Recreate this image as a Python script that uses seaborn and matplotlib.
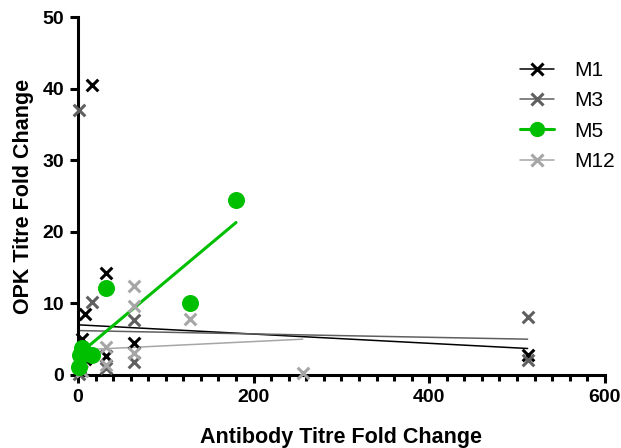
import matplotlib
matplotlib.use("Agg")
import matplotlib.pyplot as plt
from matplotlib.lines import Line2D
from matplotlib.ticker import MultipleLocator
import seaborn as sns

# values
m1_x = [16, 32, 8, 4, 64, 32, 8, 512, 2]
m1_y = [40.5, 14.2, 8.5, 5.0, 4.5, 2.6, 2.2, 2.8, 1.0]
m3_x = [1, 16, 64, 512, 512, 64, 1, 32]
m3_y = [37.0, 10.2, 7.7, 8.1, 2.1, 1.8, 0.1, 1.0]
m5_x = [1, 2, 4, 8, 16, 32, 128, 180]
m5_y = [1.1, 2.8, 3.8, 3.0, 2.8, 12.2, 10.0, 24.5]
m12_x = [64, 64, 128, 256, 32, 32, 64, 4, 2]
m12_y = [12.4, 9.7, 7.8, 0.3, 3.9, 1.4, 3.1, 0.5, 2.0]

# fitted lines as drawn in the reference (start / end)
m1_fit_x, m1_fit_y = [1, 512], [7.0, 3.7]
m3_fit_x, m3_fit_y = [1, 512], [6.2, 5.0]
m5_fit_x, m5_fit_y = [1, 180], [2.9, 21.3]
m12_fit_x, m12_fit_y = [2, 256], [3.5, 5.0]

labels = ["M1", "M3", "M5", "M12"]

sns.set_style("ticks", {"axes.edgecolor": "black", "text.color": "black",
                        "axes.labelcolor": "black", "xtick.color": "black",
                        "ytick.color": "black"})
plt.rcParams['font.family'] = ['Liberation Sans', 'DejaVu Sans']

fig = plt.figure(figsize=(6.21, 4.48), dpi=100)
ax = fig.add_axes([0.1256, 0.163, 0.8484, 0.799])

series = [
    (m1_x, m1_y, m1_fit_x, m1_fit_y, "black", "x", 1.1),
    (m3_x, m3_y, m3_fit_x, m3_fit_y, "#5f5f5f", "x", 1.1),
    (m12_x, m12_y, m12_fit_x, m12_fit_y, "#a6a6a6", "x", 1.1),
    (m5_x, m5_y, m5_fit_x, m5_fit_y, "#00bf00", "o", 2.2),
]

for xs, ys, fx, fy, col, mk, lw in series:
    sns.lineplot(x=fx, y=fy, color=col, linewidth=lw, ax=ax, legend=False)
    if mk == "o":
        sns.scatterplot(x=xs, y=ys, color=col, marker="o", s=150, linewidth=0,
                        ax=ax, legend=False, clip_on=False, zorder=3)
    else:
        sns.scatterplot(x=xs, y=ys, color=col, marker="x", s=70, linewidth=2.2,
                        ax=ax, legend=False, clip_on=False, zorder=3)

ax.set_xlim(0, 600)
ax.set_ylim(0, 50)
ax.xaxis.set_major_locator(MultipleLocator(200))
ax.xaxis.set_minor_locator(MultipleLocator(20))
ax.yaxis.set_major_locator(MultipleLocator(10))

sns.despine(ax=ax)
for s in ["left", "bottom"]:
    ax.spines[s].set_linewidth(2.2)
    ax.spines[s].set_color("black")
ax.tick_params(which="major", length=6, width=2.2, labelsize=14, pad=4, colors="black")
ax.tick_params(which="minor", length=4, width=2.2, colors="black")
for t in ax.get_xticklabels() + ax.get_yticklabels():
    t.set_fontweight("bold")

ax.set_xlabel("Antibody Titre Fold Change", fontsize=15.5, fontweight="bold", labelpad=15)
ax.set_ylabel("OPK Titre Fold Change", fontsize=15.5, fontweight="bold", labelpad=6)

handles = [
    Line2D([], [], color="black", marker="x", markersize=8, markeredgewidth=2.2, linewidth=1.1),
    Line2D([], [], color="#5f5f5f", marker="x", markersize=8, markeredgewidth=2.2, linewidth=1.1),
    Line2D([], [], color="#00bf00", marker="o", markersize=11, markeredgewidth=0, linewidth=2.2),
    Line2D([], [], color="#a6a6a6", marker="x", markersize=8, markeredgewidth=2.2, linewidth=1.1),
]
ax.legend(handles, labels, loc="upper right", bbox_to_anchor=(1.055, 0.93), frameon=False,
          fontsize=15, handlelength=1.6, labelspacing=0.55, handletextpad=1.0)

fig.savefig("out.png", dpi=100)
